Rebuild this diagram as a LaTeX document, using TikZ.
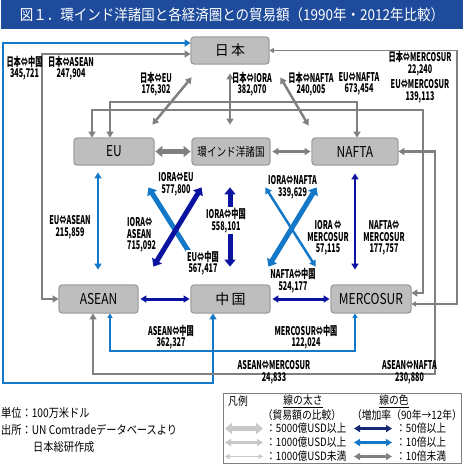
\documentclass[tikz,border=0pt]{standalone}
\usepackage{fontspec}
\setmainfont{Noto Sans CJK JP}
\newfontfamily\lblf[FakeStretch=0.6]{Noto Sans CJK JP}
\newfontfamily\boxf[FakeStretch=0.8]{Noto Sans CJK JP}
\newfontfamily\ttlf[FakeStretch=0.9]{Noto Sans CJK JP}
\newfontfamily\notef[FakeStretch=0.85]{Noto Sans CJK JP}
\usetikzlibrary{arrows.meta,calc}
\definecolor{titleblue}{RGB}{30,75,155}
\definecolor{boxfill}{RGB}{190,190,190}
\definecolor{boxline}{RGB}{145,145,145}
\definecolor{garrow}{RGB}{128,128,128}
\definecolor{lblue}{RGB}{20,120,200}
\definecolor{dblue}{RGB}{10,20,160}
\definecolor{navy}{RGB}{25,40,115}
\definecolor{lgray}{RGB}{200,200,200}
\begin{document}
\begin{tikzpicture}[x=1pt,y=-1pt,
  box/.style={draw=boxline, fill=boxfill, rounded corners=3pt, inner sep=0pt, line width=0.8pt, font=\boxf\fontsize{15}{15}\selectfont},
  lbl/.style={font=\lblf\bfseries\fontsize{12}{11.5}\selectfont, align=center, inner sep=0pt},
  lgd/.style={font=\notef\fontsize{11.5}{12}\selectfont, inner sep=0pt},
  note/.style={font=\notef\fontsize{12}{12}\selectfont, inner sep=0pt, anchor=west},
  thk/.style={line width=5pt, arrows={Triangle[length=7pt,width=11pt]-Triangle[length=7pt,width=11pt]}},
  med/.style={line width=2.5pt, arrows={Triangle[length=6pt,width=7pt]-Triangle[length=6pt,width=7pt]}},
  thn/.style={line width=1.4pt, arrows={Triangle[length=4.5pt,width=5pt]-Triangle[length=4.5pt,width=5pt]}}
]
\useasboundingbox (0,0) rectangle (464,472);
% title
\fill[titleblue] (1,0) rectangle (463,29);
\node[font=\ttlf\fontsize{15}{15}\selectfont, text=white, inner sep=0pt] (title) at (232,15) {図１．環インド洋諸国と各経済圏との貿易額（1990年・2012年比較）};

% boxes (positions)
\node[box, minimum width=78pt, minimum height=27pt, font=\fontsize{14}{14}\selectfont] (jp) at (230,50.5) {日\,本};
\node[box, minimum width=80pt, minimum height=27pt] (eu) at (114,151.5) {EU};
\node[box, minimum width=78pt, minimum height=27pt, font=\boxf\fontsize{12}{12}\selectfont] (iora) at (231,151.5) {環インド洋諸国};
\node[box, minimum width=86pt, minimum height=27pt] (nafta) at (355,151.5) {NAFTA};
\node[box, minimum width=79pt, minimum height=28pt] (asean) at (98.5,299) {ASEAN};
\node[box, minimum width=79pt, minimum height=28pt, font=\fontsize{14}{14}\selectfont] (cn) at (230.5,299) {中\,国};
\node[box, minimum width=80pt, minimum height=28pt] (merc) at (371,299) {MERCOSUR};

% connectors
\draw[med, draw=lblue] ([yshift=7.5pt]jp.west) -| (3,383) -| ([xshift=-17.5pt]cn.south);
\draw[med, draw=garrow] ([yshift=-3.5pt]jp.west) -| (42,299) -- (asean.west);
\draw[thn, draw=garrow] (jp.east) -| (457,304) -- ([yshift=-5pt]merc.east);
\draw[med, draw=garrow] ([xshift=-4pt]eu.north) |- (357,102) -- ([xshift=2pt]nafta.north);
\draw[med, draw=garrow] ([xshift=-22pt]eu.north) |- (423,110) |- ([yshift=6pt]merc.east);
\draw[med, draw=garrow] (nafta.east) -| (435,374) -| ([xshift=-5.5pt]asean.south);
\draw[thn, draw=lblue] ([xshift=11.5pt]asean.south) |- (355,351) -- ([xshift=-16pt]merc.south);

\draw[med, draw=garrow] ($(jp.south west)+(1,13)$) -- ($(eu.north east)+(-2,-13)$);
\draw[med, draw=garrow] ($(jp.south)+(0,9)$) -- ($(iora.north)+(-1,-13)$);
\draw[med, draw=garrow] ($(jp.south east)+(11,13)$) -- ($(nafta.north west)+(-3,-12)$);

\draw[thk, draw=garrow, shorten <=1pt, shorten >=1pt] (eu.east) -- (iora.west);
\draw[med, draw=garrow, shorten <=2pt, shorten >=1pt] (iora.east) -- (nafta.west);
\draw[med, draw=dblue, line width=3pt, shorten <=2pt, shorten >=1pt] (asean.east) -- (cn.west);
\draw[med, draw=dblue, line width=3pt, shorten <=2pt, shorten >=1pt] (cn.east) -- (merc.west);

\draw[med, draw=lblue, line width=2pt] ($(eu.south)+(-16,7)$) -- ($(asean.north)+(-0.5,-15)$);
\draw[med, draw=dblue, line width=2pt] ($(nafta.south)+(0,8)$) -- ($(merc.north)+(-16,-15)$);

\draw[thk, draw=lblue] ($(eu.south east)+(-6,22)$) -- ($(cn.north west)+(7,-19)$);
\draw[thk, draw=dblue] ($(iora.south west)+(10,22)$) -- ($(asean.north east)+(15,-18)$);
\draw[thk, draw=dblue] ($(iora.south)+(-1,22)$) -- ($(cn.north)+(-0.5,-18)$);
\draw[med, draw=lblue] ($(iora.south east)+(-5,22)$) -- ($(merc.north west)+(-15,-18)$);
\draw[thk, draw=lblue] ($(nafta.south west)+(5,22)$) -- ($(cn.north east)+(-2,-18)$);

% redraw boxes on top
\node[box, minimum width=78pt, minimum height=27pt, font=\fontsize{14}{14}\selectfont] at (jp) {日\,本};
\node[box, minimum width=80pt, minimum height=27pt] at (eu) {EU};
\node[box, minimum width=78pt, minimum height=27pt, font=\boxf\fontsize{12}{12}\selectfont] at (iora) {環インド洋諸国};
\node[box, minimum width=86pt, minimum height=27pt] at (nafta) {NAFTA};
\node[box, minimum width=79pt, minimum height=28pt] at (asean) {ASEAN};
\node[box, minimum width=79pt, minimum height=28pt, font=\fontsize{14}{14}\selectfont] at (cn) {中\,国};
\node[box, minimum width=80pt, minimum height=28pt] at (merc) {MERCOSUR};

% labels
\node[lbl] (l1) at (24.5,68) {日本⇔中国\\345,721};
\node[lbl] (l2) at (71,68) {日本⇔ASEAN\\247,904};
\node[lbl] (l3) at (156,84) {日本⇔EU\\176,302};
\node[lbl] (l4) at (252,84) {日本⇔IORA\\382,070};
\node[lbl] (l5) at (311,84) {日本⇔NAFTA\\240,005};
\node[lbl] (l6) at (359,84) {EU⇔NAFTA\\673,454};
\node[lbl] (l7) at (420,63.5) {日本⇔MERCOSUR\\22,240};
\node[lbl] (l8) at (420,91.5) {EU⇔MERCOSUR\\139,113};
\node[lbl] (l9) at (176,184.5) {IORA⇔EU\\577,800};
\node[lbl] (l10) at (292.5,187.5) {IORA⇔NAFTA\\339,629};
\node[lbl, align=left, anchor=west] (l11) at (127,235) {IORA⇔\\ASEAN\\715,092};
\node[lbl, fill=white, inner sep=1pt] (l12) at (203,263) {EU⇔中国\\567,417};
\node[lbl, fill=white, inner sep=1pt] (l13) at (226,220.5) {IORA⇔中国\\558,101};
\node[lbl] (l14) at (328,238) {IORA ⇔\\MERCOSUR\\57,115};
\node[lbl] (l15) at (384,238) {NAFTA⇔\\MERCOSUR\\177,757};
\node[lbl] (l16) at (70,227.5) {EU⇔ASEAN\\215,859};
\node[lbl] (l17) at (293,280.5) {NAFTA⇔中国\\524,177};
\node[lbl] (l18) at (171,337) {ASEAN⇔中国\\362,327};
\node[lbl] (l19) at (306,337) {MERCOSUR⇔中国\\122,024};
\node[lbl] (l20) at (274,372.5) {ASEAN⇔MERCOSUR\\24,833};
\node[lbl] (l21) at (409.5,372.5) {ASEAN⇔NAFTA\\230,880};

% notes
\node[note] (n1) at (1,413) {単位：100万米ドル};
\node[note] (n2) at (1,430) {出所：UN Comtradeデータベースより};
\node[note] (n3) at (33,447) {日本総研作成};

% legend
\node[draw=garrow, line width=0.6pt, minimum width=238pt, minimum height=70pt, inner sep=0pt] (lg) at (342,428) {};
\node[lgd] (lg1) at (238,401.5) {凡例};
\node[lgd] (lg2) at (303,401.5) {\underline{線の太さ}};
\node[lgd] (lg3) at (302,415) {（貿易額の比較）};
\node[lgd] (lg4) at (394,401.5) {\underline{線の色}};
\node[lgd] (lg5) at (407,415) {（増加率（90年→12年）};
\coordinate (a1l) at (225,428.5); \coordinate (a1r) at (263,428.5);
\coordinate (a2l) at (225,442.5); \coordinate (a2r) at (263,442.5);
\coordinate (a3l) at (225,456.5); \coordinate (a3r) at (263,456.5);
\coordinate (b1l) at (354,428.5); \coordinate (b1r) at (392,428.5);
\coordinate (b2l) at (354,442.5); \coordinate (b2r) at (392,442.5);
\coordinate (b3l) at (354,456.5); \coordinate (b3r) at (392,456.5);
\draw[thk, draw=lgray, line width=4.5pt, arrows={Triangle[length=7pt,width=11pt]-Triangle[length=7pt,width=11pt]}] (a1l) -- (a1r);
\draw[med, draw=lgray] (a2l) -- (a2r);
\draw[thn, draw=lgray] (a3l) -- (a3r);
\draw[med, draw=navy] (b1l) -- (b1r);
\draw[med, draw=lblue] (b2l) -- (b2r);
\draw[med, draw=garrow] (b3l) -- (b3r);
\node[lgd, anchor=west] (t1) at (266,428.5) {：5000億USD以上};
\node[lgd, anchor=west] (t2) at (266,442.5) {：1000億USD以上};
\node[lgd, anchor=west] (t3) at (266,456.5) {：1000億USD未満};
\node[lgd, anchor=west] (t4) at (396,428.5) {：50倍以上};
\node[lgd, anchor=west] (t5) at (396,442.5) {：10倍以上};
\node[lgd, anchor=west] (t6) at (396,456.5) {：10倍未満};
\end{tikzpicture}
\end{document}
